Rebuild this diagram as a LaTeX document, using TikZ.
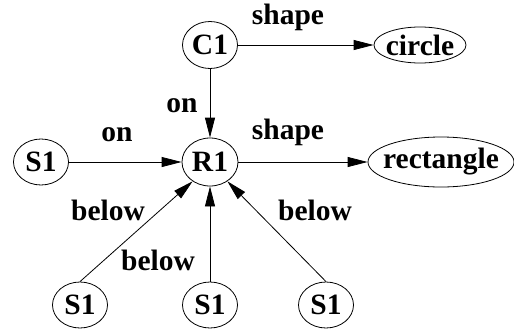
\documentclass[tikz,border=0pt]{standalone}
\usepackage{fontspec}
\setmainfont{Liberation Serif}[BoldFont={Liberation Serif Bold}]
\usetikzlibrary{shapes.geometric,arrows.meta}
\begin{document}
\begin{tikzpicture}[x=1pt,y=-1pt,
	obj/.style={ellipse,draw,line width=0.8pt,inner sep=0pt,font=\rmfamily\fontsize{29.5}{31}\selectfont\bfseries},
	lbl/.style={inner sep=0pt,font=\rmfamily\fontsize{29.5}{31}\selectfont\bfseries},
	rel/.style={-{Triangle[length=20pt,width=10pt]},line width=0.8pt}]
	\useasboundingbox (0,0) rectangle (514,335);
	
	\node[obj,minimum width=55pt,minimum height=47pt] (c1) at (210,45) {C1};
	\node[obj,minimum width=92pt,minimum height=36pt,inner xsep=-3pt] (circ) at (420,45) {circle};
	\node[obj,minimum width=56pt,minimum height=48pt] (r1) at (210,162) {R1};
	\node[obj,minimum width=55pt,minimum height=46pt] (s1) at (41,162) {S1};
	\node[obj,minimum width=146pt,minimum height=50pt,inner xsep=-8pt] (rect) at (441,162) {rectangle};
	\node[obj,minimum width=55pt,minimum height=46pt] (s2) at (80,305) {S1};
	\node[obj,minimum width=55pt,minimum height=46pt] (s3) at (210,305) {S1};
	\node[obj,minimum width=55pt,minimum height=46pt] (s4) at (326,305) {S1};
	
	\draw[rel] (c1) -- (circ);
	\draw[rel] (c1) -- (r1);
	\draw[rel] (s1) -- (r1);
	\draw[rel] (r1) -- (rect);
	\draw[rel] (s2.north) -- (r1.228);
	\draw[rel] (s3) -- (r1);
	\draw[rel] (s4.north) -- (r1.312);
	
	\node[lbl] (lshape1) at (288,17) {shape};
	\node[lbl] (lon1) at (182,106) {on};
	\node[lbl] (lon2) at (117,135) {on};
	\node[lbl] (lshape2) at (288,132) {shape};
	\node[lbl] (lbelow1) at (108,210) {below};
	\node[lbl] (lbelow2) at (158,260) {below};
	\node[lbl] (lbelow3) at (315,210) {below};
\end{tikzpicture}
\end{document}
